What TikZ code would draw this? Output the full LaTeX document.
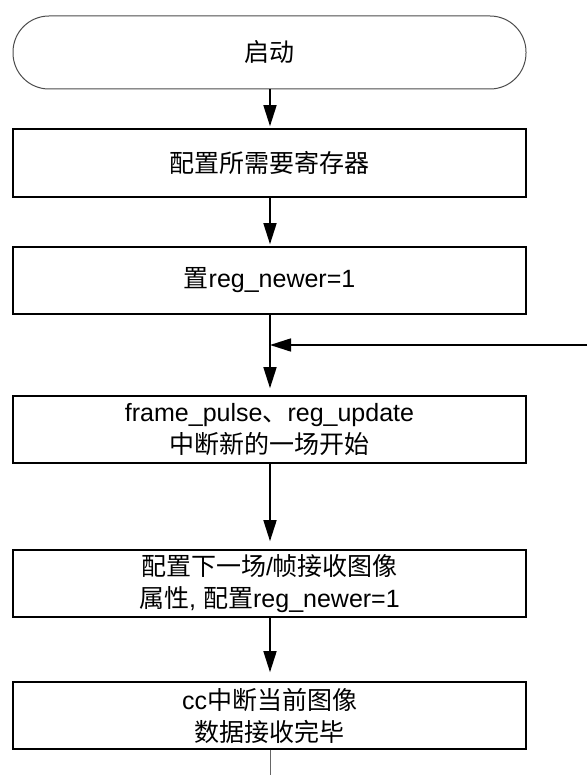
\documentclass[tikz,border=0pt]{standalone}
\usepackage{fontspec}
\setmainfont{Liberation Sans}
\newfontfamily\cjk{Noto Sans CJK SC}
\usetikzlibrary{arrows.meta}
\tikzset{
  procbox/.style={draw=black, line width=1.6pt, minimum width=513pt, inner sep=0pt, align=center, font=\fontsize{25}{32}\selectfont},
  termbox/.style={draw=black!70, line width=1pt, rounded corners=36pt, minimum width=513pt, minimum height=73pt, inner sep=0pt, font=\fontsize{25}{32}\selectfont},
  flow/.style={line width=1.6pt, -{Triangle[length=21pt,width=13pt]}},
}
\begin{document}
\begin{tikzpicture}[x=1pt,y=-1pt]
\useasboundingbox (0,0) rectangle (587,775);
\node[termbox] (start) at (269.5,52.5) {\cjk 启动};
\node[procbox, minimum height=68pt] (b1) at (269.5,163) {\cjk 配置所需要寄存器};
\node[procbox, minimum height=67pt] (b2) at (269.5,280.5) {{\cjk 置}reg\_newer=1};
\node[procbox, minimum height=67pt] (b3) at (269.5,429.5) {frame\_pulse{\cjk 、}reg\_update\\{\cjk 中断新的一场开始}};
\node[procbox, minimum height=67pt] (b4) at (269.5,583.5) {{\cjk 配置下一场}/{\cjk 帧接收图像}\\{\cjk 属性}, {\cjk 配置}reg\_newer=1};
\node[procbox, minimum height=67pt] (b5) at (269.5,715.5) {cc{\cjk 中断当前图像}\\{\cjk 数据接收完毕}};
\coordinate (join) at (270,345);
\coordinate (loopin) at (587,345);
\coordinate (tail) at (270,775);
\draw[flow, shorten >=2pt] (start.south -| join) -- (b1.north -| join);
\draw[flow, shorten >=2pt] (b1.south -| join) -- (b2.north -| join);
\draw[flow, shorten >=7pt] (b2.south -| join) -- (b3.north -| join);
\draw[flow] (loopin) -- (join);
\draw[flow, shorten >=8pt] (b3.south -| join) -- (b4.north -| join);
\draw[flow, shorten >=9pt] (b4.south -| join) -- (b5.north -| join);
\draw[black!60, line width=1pt] (b5.south -| join) -- (tail);
\end{tikzpicture}
\end{document}
